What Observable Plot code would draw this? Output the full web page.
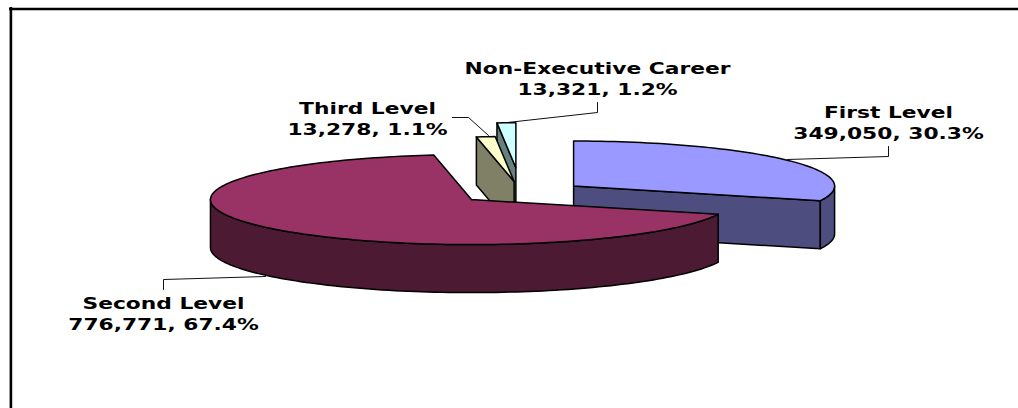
<!DOCTYPE html>
<html>
<head>
<meta charset="utf-8">
<style>html,body{margin:0;padding:0;background:#fff}svg{display:block}</style>
<script src="https://cdn.jsdelivr.net/npm/d3@7"></script>
<script src="https://cdn.jsdelivr.net/npm/@observablehq/plot@0.6"></script>
</head>
<body>
<script>
// Data
const categories = ["First Level", "Second Level", "Third Level", "Non-Executive Career"];
const values = [349050, 776771, 13278, 13321];
const percents = [30.3, 67.4, 1.1, 1.2];

// Styling
const topColors = ["#9999FF", "#993366", "#FFFFCC", "#CCFFFF"];
const sideColors = ["#4D4D80", "#4D1A33", "#808066", "#668080"];
const explosions = [0.247, 0.247, 0.247, 0.55];
const drawOrder = [3, 2, 0, 1];

// Layout of the tilted pie, in the plot's x/y units
const pie = {cx: 520.6, cy: 192, a: 261, b: 45, depth: 48, start: -90};
const labelCenters = [[888, 117], [163, 308], [367, 113], [597, 73]];
const lineGap = 21;
const textStretch = 1.32;
const leaders = [
  [[787, 159], [888, 156], [888, 146]],
  [[265, 276], [163, 279], [163, 289]],
  [[488, 135], [468, 117], [452, 117]],
  [[507, 122], [597, 112], [597, 102]]
];

const total = d3.sum(values);
const rad = d => d * Math.PI / 180;
let acc = pie.start;
const slices = values.map((v, i) => {
  const s = acc, e = acc + v / total * 360;
  acc = e;
  const mid = rad((s + e) / 2);
  return {
    i, s, e,
    ax: pie.cx + explosions[i] * pie.a * Math.cos(mid),
    ay: pie.cy + explosions[i] * pie.b * Math.sin(mid)
  };
});

const rim = (sl, deg, dy = 0) => ({
  x: sl.ax + pie.a * Math.cos(rad(deg)),
  y: sl.ay + pie.b * Math.sin(rad(deg)) + dy
});
const arc = (sl, s, e, dy = 0) => {
  const n = Math.max(1, Math.ceil((e - s) / 1.5));
  return d3.range(n + 1).map(k => rim(sl, s + (e - s) * k / n, dy));
};
const close = pts => [...pts, pts[0]];
const face = (pts, fill) => Plot.line(close(pts), {
  x: "x", y: "y", fill, stroke: "#000", strokeWidth: 1.5, curve: "linear"
});

const sliceMarks = drawOrder.flatMap(i => {
  const sl = slices[i], marks = [];
  const apex = {x: sl.ax, y: sl.ay}, apexLow = {x: sl.ax, y: sl.ay + pie.depth};
  // cut faces seen from the viewer
  if (Math.cos(rad(sl.s)) < -1e-6)
    marks.push(face([apex, rim(sl, sl.s), rim(sl, sl.s, pie.depth), apexLow], sideColors[i]));
  if (Math.cos(rad(sl.e)) > 1e-6)
    marks.push(face([apex, rim(sl, sl.e), rim(sl, sl.e, pie.depth), apexLow], sideColors[i]));
  // front-facing outer wall
  const s = Math.max(sl.s, 0), e = Math.min(sl.e, 180);
  if (e > s)
    marks.push(face([...arc(sl, s, e), ...arc(sl, s, e, pie.depth).reverse()], sideColors[i]));
  // top face
  marks.push(face([apex, ...arc(sl, sl.s, sl.e)], topColors[i]));
  return marks;
});

const leaderMarks = leaders.map(pts => Plot.line(pts, {
  x: d => d[0], y: d => d[1], stroke: "#111", strokeWidth: 1, curve: "linear"
}));

const labelRows = categories.flatMap((c, i) => [
  {text: c, x: labelCenters[i][0], y: labelCenters[i][1]},
  {text: `${d3.format(",")(values[i])}, ${percents[i]}%`, x: labelCenters[i][0], y: labelCenters[i][1] + lineGap}
]);

const chart = Plot.plot({
  width: 1018,
  height: 408,
  margin: 0,
  x: {domain: [0, 1018], range: [0, 1018], axis: null},
  y: {domain: [0, 408], range: [0, 408], axis: null},
  marks: [
    Plot.ruleY([8.5], {x1: 9, x2: 1018, stroke: "#000", strokeWidth: 2.6}),
    Plot.ruleX([10.4], {y1: 7, y2: 408, stroke: "#000", strokeWidth: 2.6}),
    ...leaderMarks,
    ...sliceMarks,
    Plot.text(labelRows, {
      x: "x", y: "y", text: "text",
      textAnchor: "middle", lineAnchor: "bottom",
      fontFamily: "DejaVu Sans", fontWeight: "bold", fontSize: 16.5, fill: "#000"
    })
  ]
});
// The reference's lettering is wider than DejaVu Bold: widen each label around its anchor
chart.querySelectorAll("text").forEach(t => {
  const tf = t.getAttribute("transform") || "";
  t.setAttribute("transform", `${tf} scale(${textStretch},1)`);
});
document.body.appendChild(chart);
</script>
</body>
</html>
